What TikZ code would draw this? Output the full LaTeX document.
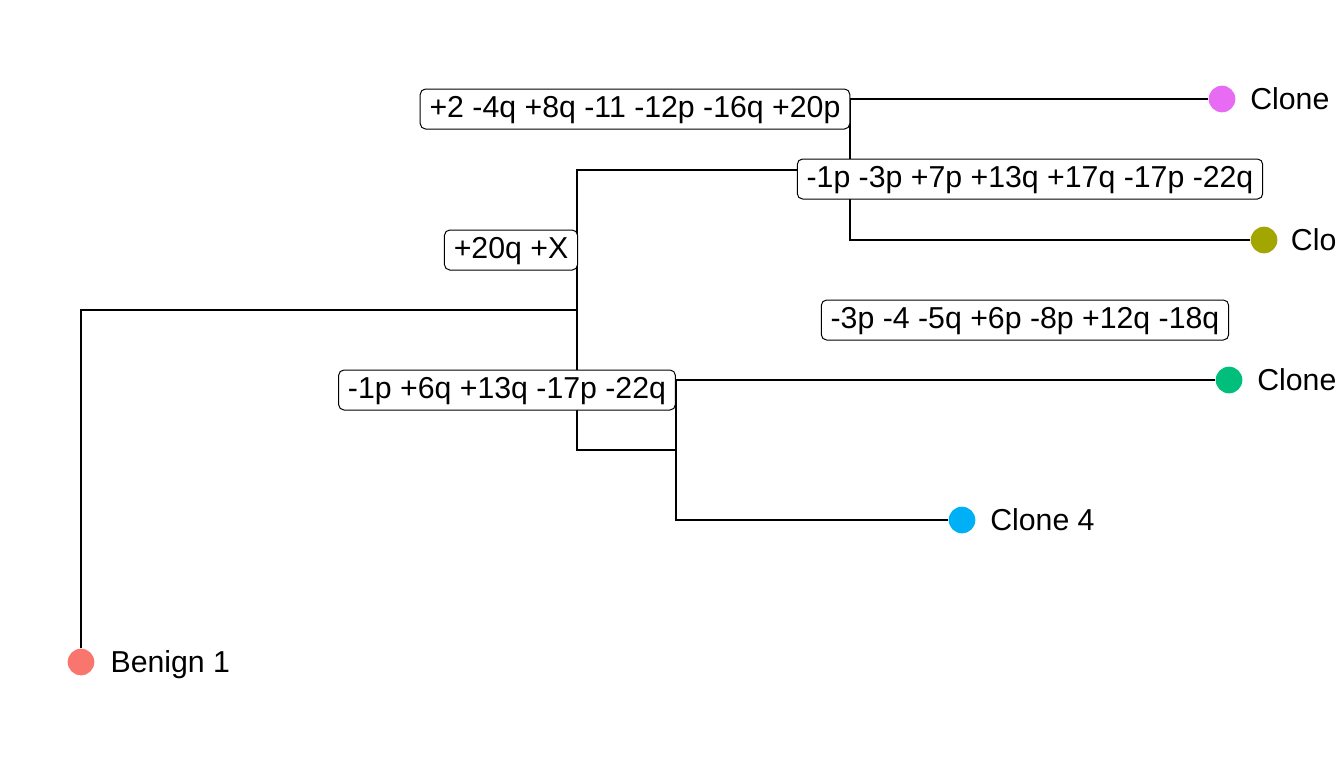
\documentclass[tikz,border=0pt]{standalone}
\usepackage{fontspec}
\setmainfont{Liberation Sans}
\definecolor{benigncol}{HTML}{F8766D}
\definecolor{oliveclone}{HTML}{A3A500}
\definecolor{greenclone}{HTML}{00BF7D}
\definecolor{blueclone}{HTML}{00B0F6}
\definecolor{pinkclone}{HTML}{E76BF3}
\begin{document}
\begin{tikzpicture}[
    x=0.75pt, y=-0.75pt,
    tip/.style={circle, inner sep=0pt, minimum size=20pt},
    branch/.style={line width=1.9pt},
    event/.style={draw, rounded corners=4pt, fill=white, line width=0.75pt, inner xsep=7pt, inner ysep=4pt, text height=17pt, text depth=5pt, font=\fontsize{22.7pt}{27pt}\selectfont},
    leaf/.style={anchor=base west, inner sep=0pt, font=\fontsize{22.7pt}{27pt}\selectfont}
]
\useasboundingbox (0,0) rectangle (1344,768);
% inner nodes of the tree
\coordinate (n1) at (577,310);
\coordinate (n2) at (850,170);
\coordinate (n3) at (676,450);
% leaves
\node[tip, fill=benigncol] (benign) at (81,662) {};
\node[tip, fill=pinkclone] (pink) at (1222,99) {};
\node[tip, fill=oliveclone] (olive) at (1264,240) {};
\node[tip, fill=greenclone] (green) at (1229,380) {};
\node[tip, fill=blueclone] (blue) at (962,520) {};
\node[leaf] (benignlab) at ([xshift=22pt,yshift=-8pt]benign.center) {Benign 1};
\node[leaf] (pinklab) at ([xshift=21pt,yshift=-8pt]pink.center) {Clone};
\node[leaf] (olivelab) at ([xshift=20pt,yshift=-8pt]olive.center) {Clo};
\node[leaf] (greenlab) at ([xshift=21pt,yshift=-8pt]green.center) {Clone};
\node[leaf] (bluelab) at ([xshift=21pt,yshift=-8pt]blue.center) {Clone 4};
% branches
\draw[branch] (benign) |- (n1);
\draw[branch] (n1) |- (n2);
\draw[branch] (n1) |- (n3);
\draw[branch] (n2) |- (pink);
\draw[branch] (n2) |- (olive);
\draw[branch] (n3) |- (green);
\draw[branch] (n3) |- (blue);
% copy number events
\node[event] (ev1) at (635,109) {+2 -4q +8q -11 -12p -16q +20p};
\node[event] (ev2) at (1030,179) {-1p -3p +7p +13q +17q -17p -22q};
\node[event] (ev3) at (511,250) {+20q +X};
\node[event] (ev4) at (1025,320) {-3p -4 -5q +6p -8p +12q -18q};
\node[event] (ev5) at (507,390) {-1p +6q +13q -17p -22q};
\end{tikzpicture}
\end{document}
